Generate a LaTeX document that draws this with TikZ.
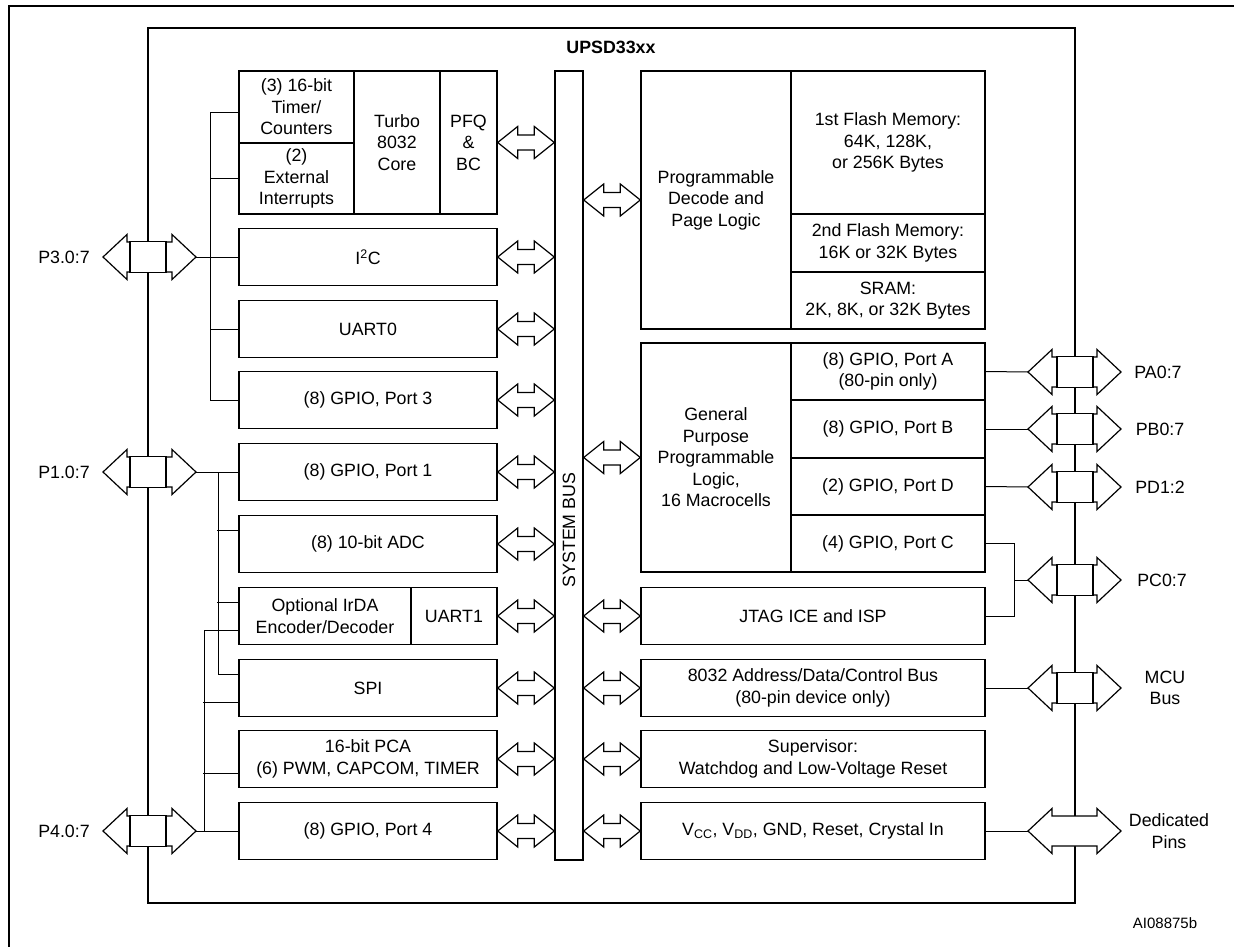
\documentclass[tikz,border=0pt]{standalone}
\usepackage{fontspec}
\setmainfont{Liberation Sans}
\usetikzlibrary{calc}

\begin{document}
\begin{tikzpicture}[x=1pt,y=-1pt,
    every node/.style={font=\fontsize{17.8}{21.5}\selectfont},
    blk/.style={draw, line width=1.4pt, align=center, inner sep=0pt},
    lrow/.style={blk, minimum width=258pt, minimum height=57pt},
    rrow/.style={blk, minimum width=344pt, minimum height=57pt},
    gpio/.style={blk, minimum width=194pt, minimum height=57pt},
    portbox/.style={draw, fill=white, line width=1.4pt, minimum width=36pt, minimum height=31pt, inner sep=0pt},
    wire/.style={line width=1pt},
    busarrow/.style={draw, fill=white, line width=1.2pt,
        to path={let \p1=(\tikztostart), \p2=(\tikztotarget) in
        (\x1,\y1) -- (\x1+20pt,\y1+16pt) -- (\x1+20pt,\y1+7.5pt) -- (\x2-20pt,\y1+7.5pt)
        -- (\x2-20pt,\y1+16pt) -- (\x2,\y1) -- (\x2-20pt,\y1-16pt) -- (\x2-20pt,\y1-7.5pt)
        -- (\x1+20pt,\y1-7.5pt) -- (\x1+20pt,\y1-16pt) -- cycle}},
    portarrow/.style={draw, fill=white, line width=1.2pt,
        to path={let \p1=(\tikztostart), \p2=(\tikztotarget) in
        (\x1,\y1) -- (\x1+24pt,\y1+22.5pt) -- (\x1+24pt,\y1+15pt) -- (\x2-24pt,\y1+15pt)
        -- (\x2-24pt,\y1+22.5pt) -- (\x2,\y1) -- (\x2-24pt,\y1-22.5pt) -- (\x2-24pt,\y1-15pt)
        -- (\x1+24pt,\y1-15pt) -- (\x1+24pt,\y1-22.5pt) -- cycle}}]
    \useasboundingbox (0,0) rectangle (1234,947);
    \draw[line width=2.8pt] (9,947) -- (9,6) -- (1234,6);

    % chip outline
    \node[blk, minimum width=927pt, minimum height=875pt] (chip) at (611.5,465.5) {};
    \node[font=\bfseries\fontsize{17.8}{21.5}\selectfont] (title) at (611,47) {UPSD33xx};
    \node[blk, minimum width=28pt, minimum height=789pt] (bus) at (569,465.5) {};
    \node[rotate=90] (buslbl) at (569,530) {SYSTEM BUS};

    % left column
    \node[blk, minimum width=115pt, minimum height=72pt] (timer) at (296.5,107) {(3) 16-bit\\Timer/\\Counters};
    \node[blk, minimum width=115pt, minimum height=71pt] (extint) at (296.5,178.5) {(2)\\External\\Interrupts};
    \node[blk, minimum width=86pt, minimum height=143pt] (core) at (397,142.5) {Turbo\\8032\\Core};
    \node[blk, minimum width=57pt, minimum height=143pt] (pfq) at (468.5,142.5) {PFQ\\\&\\BC};
    \node[lrow] (i2c) at (368,257) {I\textsuperscript{2}C};
    \node[lrow] (uart0) at (368,329) {UART0};
    \node[lrow] (gpio3) at (368,400) {(8) GPIO, Port 3};
    \node[lrow] (gpio1) at (368,472) {(8) GPIO, Port 1};
    \node[lrow] (adc) at (368,544) {(8) 10-bit ADC};
    \node[blk, minimum width=172pt, minimum height=57pt] (irda) at (325,616) {Optional IrDA\\Encoder/Decoder};
    \node[blk, minimum width=86pt, minimum height=57pt] (uart1) at (454,616) {UART1};
    \node[lrow] (spi) at (368,688) {SPI};
    \node[lrow] (pca) at (368,759) {16-bit PCA\\(6) PWM, CAPCOM, TIMER};
    \node[lrow] (gpio4) at (368,831) {(8) GPIO, Port 4};

    % right column
    \node[blk, minimum width=150pt, minimum height=258pt] (pdpl) at (716,200) {Programmable\\Decode and\\Page Logic};
    \node[blk, minimum width=194pt, minimum height=143pt] (flash1) at (888,142.5) {1st Flash Memory:\\64K, 128K,\\or 256K Bytes};
    \node[blk, minimum width=194pt, minimum height=58pt] (flash2) at (888,243) {2nd Flash Memory:\\16K or 32K Bytes};
    \node[gpio] (sram) at (888,300.5) {SRAM:\\2K, 8K, or 32K Bytes};
    \node[blk, minimum width=150pt, minimum height=229pt] (gpl) at (716,457.5) {General\\Purpose\\Programmable\\Logic,\\16 Macrocells};
    \node[gpio] (porta) at (888,371.5) {(8) GPIO, Port A\\(80-pin only)};
    \node[gpio] (portb) at (888,429) {(8) GPIO, Port B};
    \node[gpio] (portd) at (888,486.5) {(2) GPIO, Port D};
    \node[gpio] (portc) at (888,543.5) {(4) GPIO, Port C};
    \node[rrow] (jtag) at (813,616) {JTAG ICE and ISP};
    \node[rrow] (addr) at (813,688) {8032 Address/Data/Control Bus\\(80-pin device only)};
    \node[rrow] (sup) at (813,759) {Supervisor:\\Watchdog and Low-Voltage Reset};
    \node[rrow] (pwr) at (813,831) {V\textsubscript{CC}, V\textsubscript{DD}, GND, Reset, Crystal In};

    % system bus arrows
    \draw[busarrow] (pfq.east) to (bus.west |- pfq.east);
    \draw[busarrow] (i2c.east) to (bus.west |- i2c.east);
    \draw[busarrow] (uart0.east) to (bus.west |- uart0.east);
    \draw[busarrow] (gpio3.east) to (bus.west |- gpio3.east);
    \draw[busarrow] (gpio1.east) to (bus.west |- gpio1.east);
    \draw[busarrow] (adc.east) to (bus.west |- adc.east);
    \draw[busarrow] (uart1.east) to (bus.west |- uart1.east);
    \draw[busarrow] (spi.east) to (bus.west |- spi.east);
    \draw[busarrow] (pca.east) to (bus.west |- pca.east);
    \draw[busarrow] (gpio4.east) to (bus.west |- gpio4.east);
    \draw[busarrow] (bus.east |- pdpl.west) to (pdpl.west);
    \draw[busarrow] (bus.east |- gpl.west) to (gpl.west);
    \draw[busarrow] (bus.east |- jtag.west) to (jtag.west);
    \draw[busarrow] (bus.east |- addr.west) to (addr.west);
    \draw[busarrow] (bus.east |- sup.west) to (sup.west);
    \draw[busarrow] (bus.east |- pwr.west) to (pwr.west);

    % left ports
    \coordinate (p3l) at (103,257);
    \coordinate (p3r) at (196,257);
    \coordinate (p1l) at (103,472);
    \coordinate (p1r) at (196,472);
    \coordinate (p4l) at (103,831);
    \coordinate (p4r) at (196,831);
    \draw[portarrow] (p3l) to (p3r);
    \draw[portarrow] (p1l) to (p1r);
    \draw[portarrow] (p4l) to (p4r);
    \node[portbox] (p3) at (148,257) {};
    \node[portbox] (p1) at (148,472) {};
    \node[portbox] (p4) at (148,831) {};
    \node (p3lbl) at (64,257) {P3.0:7};
    \node (p1lbl) at (64,472) {P1.0:7};
    \node (p4lbl) at (64,831) {P4.0:7};

    % port 3 wiring
    \coordinate (t3) at (210,113);
    \draw[wire] (p3r) -- (i2c.west);
    \draw[wire] ([yshift=-6pt]timer.west) -- (t3) |- (gpio3.west);
    \draw[wire] (extint.west) -- (t3 |- extint.west);
    \draw[wire] (uart0.west) -- (t3 |- uart0.west);

    % port 1 wiring
    \coordinate (t1) at (218,472);
    \draw[wire] (p1r) -- (gpio1.west);
    \draw[wire] (t1) |- ([yshift=14pt]spi.west);
    \draw[wire] ([yshift=14pt]adc.west) -- ++(-21,0);
    \draw[wire] ([yshift=14pt]irda.west) -- ++(-21,0);

    % port 4 wiring
    \coordinate (t4) at (204,831);
    \draw[wire] (p4r) -- (gpio4.west);
    \draw[wire] ([yshift=-14pt]irda.west) -| (t4);
    \draw[wire] ([yshift=-14pt]spi.west) -- ++(-35,0);
    \draw[wire] ([yshift=-14pt]pca.west) -- ++(-35,0);

    % right ports
    \coordinate (pal) at (1028,372);
    \coordinate (par) at (1121,372);
    \coordinate (pbl) at (1028,429);
    \coordinate (pbr) at (1121,429);
    \coordinate (pdl) at (1028,487);
    \coordinate (pdr) at (1121,487);
    \coordinate (pcl) at (1028,580);
    \coordinate (pcr) at (1121,580);
    \coordinate (mcul) at (1028,688);
    \coordinate (mcur) at (1121,688);
    \coordinate (dedl) at (1028,831);
    \coordinate (dedr) at (1121,831);
    \draw[portarrow] (pal) to (par);
    \draw[portarrow] (pbl) to (pbr);
    \draw[portarrow] (pdl) to (pdr);
    \draw[portarrow] (pcl) to (pcr);
    \draw[portarrow] (mcul) to (mcur);
    \draw[portarrow] (dedl) to (dedr);
    \node[portbox] (pa) at (1075,372) {};
    \node[portbox] (pb) at (1075,429) {};
    \node[portbox] (pd) at (1075,487) {};
    \node[portbox] (pc) at (1075,580) {};
    \node[portbox] (mcu) at (1075,688) {};
    \node (palbl) at (1158,372) {PA0:7};
    \node (pblbl) at (1160,429) {PB0:7};
    \node (pdlbl) at (1160,487) {PD1:2};
    \node (pclbl) at (1162,580) {PC0:7};
    \node[align=center] (mculbl) at (1165,688) {MCU\\Bus};
    \node[align=center] (dedlbl) at (1169,831) {Dedicated\\Pins};

    % right wiring
    \coordinate (tc) at (1014,580);
    \draw[wire] (porta.east) -- (pal);
    \draw[wire] (portb.east) -- (pbl);
    \draw[wire] (portd.east) -- (pdl);
    \draw[wire] (portc.east) -| (tc) |- (jtag.east);
    \draw[wire] (tc) -- (pcl);
    \draw[wire] (addr.east) -- (mcul);
    \draw[wire] (pwr.east) -- (dedl);

    \node[font=\fontsize{15}{18}\selectfont] (ref) at (1165,923) {AI08875b};
\end{tikzpicture}
\end{document}
